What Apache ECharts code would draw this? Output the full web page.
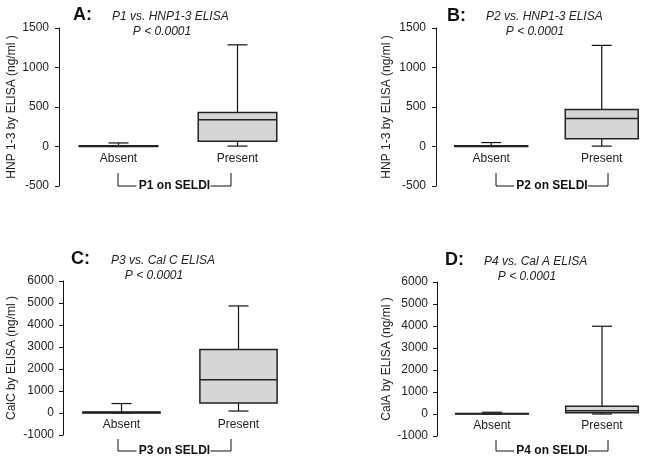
<!DOCTYPE html>
<html>
<head>
<meta charset="utf-8">
<script src="https://cdn.jsdelivr.net/npm/echarts@6/dist/echarts.min.js"></script>
<style>
html,body{margin:0;padding:0;background:#fff;}
#c{width:657px;height:460px;}
</style>
</head>
<body>
<div id="c"></div>
<script>
// ---- data: [low, Q1, median, Q3, high] ----
const categories = ['Absent', 'Present'];
const aAbsent  = [0, 0, 4, 8, 45];
const aPresent = [5, 67, 338, 430, 1287];
const bAbsent  = [0, 0, 4, 8, 50];
const bPresent = [5, 97, 354, 468, 1280];
const cAbsent  = [0, 0, 25, 50, 430];
const cPresent = [90, 453, 1512, 2888, 4866];
const dAbsent  = [0, 0, 10, 20, 80];
const dPresent = [0, 60, 150, 350, 3990];
const hnpTicks = [-500, 1500, 500];   // min, max, interval
const calTicks = [-1000, 6000, 1000];

const FONT = "'Liberation Sans', Arial, Helvetica, sans-serif";
const chart = echarts.init(document.getElementById('c'));

const grids = [
  {left: 59,  top: 28,  width: 238, height: 158},
  {left: 436, top: 28,  width: 238, height: 158},
  {left: 63,  top: 281, width: 234, height: 154},
  {left: 437, top: 282, width: 234, height: 154}
];
const yNames = ['HNP 1-3 by ELISA (ng/ml )', 'HNP 1-3 by ELISA (ng/ml )',
                'CalC by ELISA (ng/ml )', 'CalA by ELISA (ng/ml )'];
const yGaps = [41, 43, 45, 44];
const yMargins = [10, 10, 9, 9];
const ticks = [hnpTicks, hnpTicks, calTicks, calTicks];
const panels = [[aAbsent, aPresent], [bAbsent, bPresent], [cAbsent, cPresent], [dAbsent, dPresent]];

function renderBox(params, api) {
  const x = api.value(0);
  const lo = api.coord([x, api.value(1)]);
  const q1 = api.coord([x, api.value(2)]);
  const md = api.coord([x, api.value(3)]);
  const q3 = api.coord([x, api.value(4)]);
  const hi = api.coord([x, api.value(5)]);
  const bw = api.size([1, 0])[0] * 0.66;
  const cx = lo[0];
  const cap = 10;
  const ws = {stroke: '#111', lineWidth: 1.2, fill: null};
  const bs = {stroke: '#222', lineWidth: 1.5, fill: '#d6d6d6'};
  return {
    type: 'group',
    children: [
      {type: 'line', shape: {x1: cx, y1: q3[1], x2: cx, y2: hi[1]}, style: ws},
      {type: 'line', shape: {x1: cx - cap, y1: hi[1], x2: cx + cap, y2: hi[1]}, style: ws},
      {type: 'line', shape: {x1: cx, y1: q1[1], x2: cx, y2: lo[1]}, style: ws},
      {type: 'line', shape: {x1: cx - cap, y1: lo[1], x2: cx + cap, y2: lo[1]}, style: ws},
      {type: 'rect', shape: {x: cx - bw / 2, y: q3[1], width: bw, height: q1[1] - q3[1]}, style: bs},
      {type: 'line', shape: {x1: cx - bw / 2, y1: md[1], x2: cx + bw / 2, y2: md[1]}, style: {stroke: '#222', lineWidth: 1.5}}
    ]
  };
}

const xAxis = [], yAxis = [], series = [];
for (let i = 0; i < 4; i++) {
  const t = ticks[i];
  // move the category axis up to the y = 0 level
  const zeroOffset = -grids[i].height * (0 - t[0]) / (t[1] - t[0]);
  xAxis.push({
    type: 'category', gridIndex: i, data: categories,
    position: 'bottom', offset: zeroOffset,
    axisLine: {show: false, onZero: false},
    axisTick: {show: false},
    axisLabel: {color: '#222', fontSize: 12, fontFamily: FONT, margin: 6},
    splitLine: {show: false}
  });
  yAxis.push({
    type: 'value', gridIndex: i,
    min: t[0], max: t[1], interval: t[2],
    name: yNames[i], nameLocation: 'middle', nameGap: yGaps[i],
    nameTextStyle: {color: '#222', fontSize: 12, fontFamily: FONT},
    axisLine: {show: true, lineStyle: {color: '#111', width: 1}},
    axisTick: {show: true, length: 4, lineStyle: {color: '#111'}},
    axisLabel: {color: '#222', fontSize: 12, fontFamily: FONT, margin: yMargins[i],
                formatter: function (v) { return String(v); }},
    splitLine: {show: false}
  });
  series.push({
    type: 'custom', xAxisIndex: i, yAxisIndex: i,
    renderItem: renderBox,
    encode: {x: 0, y: [1, 2, 3, 4, 5]},
    data: panels[i].map((v, k) => [k].concat(v)),
    clip: false, silent: true
  });
}

function txt(x, y, text, opts) {
  return {
    type: 'text', x: x, y: y, silent: true,
    style: Object.assign({
      text: text, fill: '#222', fontSize: 12, fontFamily: FONT,
      align: 'left', verticalAlign: 'middle', textAlign: 'left', textVerticalAlign: 'middle'
    }, opts || {})
  };
}
function center(o) { return Object.assign({align: 'center', textAlign: 'center'}, o || {}); }
function bracket(x1, x2, yTop, yLine, label) {
  const mid = (x1 + x2) / 2;
  const half = 38;
  const ls = {stroke: '#111', lineWidth: 1};
  return [
    {type: 'polyline', silent: true, shape: {points: [[x1, yTop], [x1, yLine], [mid - half, yLine]]}, style: ls},
    {type: 'polyline', silent: true, shape: {points: [[mid + half - 2, yLine], [x2, yLine], [x2, yTop]]}, style: ls},
    txt(mid, yLine, label, center({fontWeight: 'bold', fill: '#111'}))
  ];
}

const big = {fontSize: 18, fontWeight: 'bold', fill: '#111'};
const ital = {fontStyle: 'italic'};
const graphics = [
  txt(73, 15, 'A:', big),
  txt(112, 17, 'P1 vs. HNP1-3 ELISA', ital),
  txt(162, 32, 'P < 0.0001', center(ital)),
  txt(447, 16, 'B:', big),
  txt(486, 17, 'P2 vs. HNP1-3 ELISA', ital),
  txt(535, 32, 'P < 0.0001', center(ital)),
  txt(71, 259, 'C:', big),
  txt(111, 261, 'P3 vs. Cal C ELISA', ital),
  txt(154, 276, 'P < 0.0001', center(ital)),
  txt(445, 260, 'D:', big),
  txt(484, 262, 'P4 vs. Cal A ELISA', ital),
  txt(527, 277, 'P < 0.0001', center(ital))
].concat(
  bracket(118, 231, 173, 186, 'P1 on SELDI'),
  bracket(496, 608, 173, 186, 'P2 on SELDI'),
  bracket(118, 231, 439, 451, 'P3 on SELDI'),
  bracket(496, 608, 440, 451, 'P4 on SELDI')
);

chart.setOption({
  animation: false,
  backgroundColor: '#fff',
  grid: grids,
  xAxis: xAxis,
  yAxis: yAxis,
  series: series,
  graphic: {elements: graphics}
});
</script>
</body>
</html>
